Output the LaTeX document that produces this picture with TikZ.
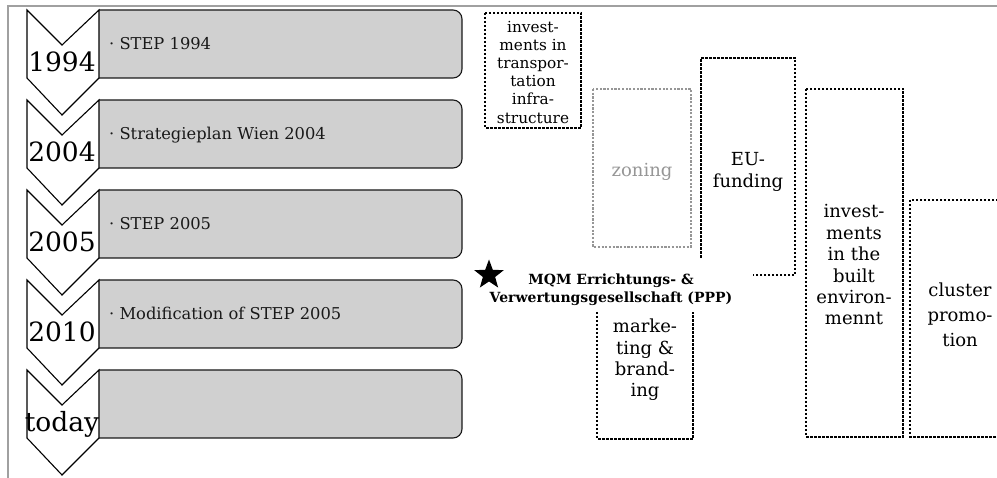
\documentclass[tikz,border=0pt]{standalone}
\usepackage{fontspec}
\setmainfont{DejaVu Serif}
\usetikzlibrary{shapes.geometric}
\definecolor{panel}{RGB}{208,208,208}
\definecolor{framegray}{RGB}{160,160,160}
\definecolor{zonegray}{RGB}{150,150,150}
\begin{document}
\begin{tikzpicture}[x=1pt,y=-1pt,
  chev/.style={draw=black, line width=1.1pt, fill=white, line join=miter},
  panelbox/.style={draw=black!90, line width=1.1pt, fill=panel, rounded corners=9pt},
  yeartxt/.style={font=\fontsize{26.5}{30}\selectfont, anchor=base, inner sep=0pt},
  steptxt/.style={font=\fontsize{16.3}{18}\selectfont, anchor=base west, inner sep=0pt, text=black!90},
  dotbox/.style={draw=black, line width=2.7pt, dash pattern=on 2.5pt off 1.5pt},
  graydot/.style={draw=zonegray, line width=2.3pt, dash pattern=on 2.2pt off 1.5pt},
  smalltxt/.style={font=\fontsize{15.3}{18.2}\selectfont, align=center, inner sep=0pt, text=black},
  boxtxt/.style={font=\fontsize{18}{21.4}\selectfont, align=center, inner sep=0pt, text=black},
  labeltxt/.style={font=\bfseries\fontsize{14}{18}\selectfont, align=center, inner sep=0pt}
]
\useasboundingbox (0,0) rectangle (997,478);
% frame
\draw[framegray, line width=1.5pt] (8,478) -- (8,6) -- (997,6);

% timeline
\foreach \i/\yr/\txt in {0/1994/{· STEP 1994},1/2004/{· Strategieplan Wien 2004},2/2005/{· STEP 2005},3/2010/{· Modification of STEP 2005},4/today/{}} {
  \pgfmathsetmacro\t{10+90*\i}
  \filldraw[panelbox] (99,\t) -- (462,\t) -- (462,{\t+68}) -- (99,{\t+68});
  \filldraw[chev] (27,\t) -- (62,{\t+35}) -- (99,\t) -- (99,{\t+68}) -- (62,{\t+105}) -- (27,{\t+68}) -- cycle;
  \node[yeartxt] (year\i) at (62,{\t+62}) {\yr};
  \node[steptxt] (step\i) at (109,{\t+40}) {\txt};
}

% boxes
\draw[dotbox] (485,13) rectangle (581,128);
\node[smalltxt] (transport) at (533,72) {invest-\\ments in\\transpor-\\tation\\infra-\\structure};

\draw[graydot] (593,89) rectangle (691,247);
\node[boxtxt, text=zonegray] (zoning) at (642,172) {zoning};

\draw[dotbox] (701,258) -- (701,58) -- (795,58) -- (795,275) -- (753,275);
\node[boxtxt] (eu) at (748,172) {EU-\\funding};

\draw[dotbox] (597,312) -- (597,439) -- (693,439) -- (693,312);
\node[boxtxt] (marketing) at (645,360) {marke-\\ting \&\\brand-\\ing};

\draw[dotbox] (806,89) rectangle (903,437);
\node[boxtxt] (built) at (854,265) {invest-\\ments\\in the\\built\\environ-\\mennt};

\draw[dotbox] (1010,200) -- (910,200) -- (910,437) -- (1010,437);
\node[boxtxt, font=\fontsize{18}{25}\selectfont] (cluster) at (960,315) {cluster\\promo-\\tion};

% label
\node[star, star points=5, star point ratio=2.4, fill=black, minimum size=31pt, inner sep=0pt] (star) at (489,275) {};
\node[labeltxt] (mqm) at (611,290) {MQM Errichtungs- \&\\Verwertungsgesellschaft (PPP)};
\end{tikzpicture}
\end{document}
